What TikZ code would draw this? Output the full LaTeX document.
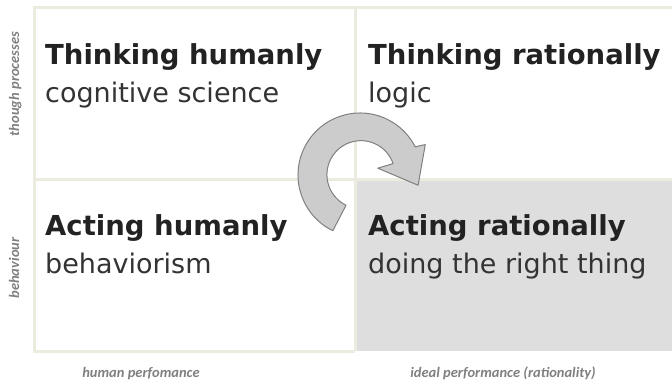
\documentclass[tikz,border=0pt]{standalone}
\usepackage{fontspec}
\setmainfont{DejaVu Sans}
\newfontfamily\axisfont{Carlito}
\usepackage{tikz}
\usetikzlibrary{calc}
\usepackage{xcolor}
\definecolor{gridbeige}{RGB}{236,235,224}
\definecolor{cellgray}{RGB}{222,222,222}
\definecolor{arrowfill}{RGB}{204,204,204}
\definecolor{arrowedge}{RGB}{128,128,128}
\definecolor{headink}{RGB}{34,34,34}
\definecolor{subink}{RGB}{51,51,51}
\definecolor{axisink}{RGB}{128,128,128}

\begin{document}
\begin{tikzpicture}[
  x=1pt, y=1pt,
  heading/.style={anchor=base west, inner sep=0pt, text=headink, font=\fontsize{27.5}{33}\selectfont\bfseries},
  subline/.style={anchor=base west, inner sep=0pt, text=subink, font=\fontsize{27}{32}\selectfont},
  axislabel/.style={inner sep=0pt, text=axisink, font=\axisfont\fontsize{14.5}{17}\selectfont\bfseries\itshape},
  gridline/.style={gridbeige, line width=3pt},
  arrowbody/.style={fill=arrowfill, draw=arrowedge, line width=1pt, line join=round}
]
\useasboundingbox (0,0) rectangle (672,381);

% Shaded cell (acting rationally)
\fill[cellgray] (355,30) rectangle (672,202);

% Grid
\draw[gridline] (672,373) -- (34,373) -- (34,30) -- (355,30);
\draw[gridline] (34,202) -- (672,202);
\draw[gridline] (355,373) -- (355,30);

% Cell texts
\node[heading] (tlhead) at (45,316) {Thinking humanly};
\node[subline] (tlsub) at (45,278) {cognitive science};
\node[heading] (trhead) at (368,316) {Thinking rationally};
\node[subline] (trsub) at (368,278) {logic};
\node[heading] (blhead) at (45,146) {Acting humanly};
\node[subline] (blsub) at (45,108) {behaviorism};
\node[heading] (brhead) at (368,146) {Acting rationally};
\node[subline] (brsub) at (368,108) {doing the right thing};

% Curved arrow
\coordinate (turn) at (360,206);
\draw[arrowbody]
  ($(turn)+(244:62)$) arc[start angle=244, end angle=27, radius=62]
  -- ($(turn)+(25:72)$) -- ($(turn)+(-10:59)$) -- ($(turn)+(21:19)$)
  -- ($(turn)+(19:35)$) arc[start angle=19, end angle=244, radius=34] -- cycle;

% Axis labels
\node[axislabel, anchor=base] (xhuman) at (141,4) {human perfomance};
\node[axislabel, anchor=base] (xideal) at (503,4) {ideal performance (rationality)};
\node[axislabel, rotate=90, anchor=base] (ythought) at (19,297) {though processes};
\node[axislabel, rotate=90, anchor=base] (ybehav) at (19,113) {behaviour};
\end{tikzpicture}
\end{document}
